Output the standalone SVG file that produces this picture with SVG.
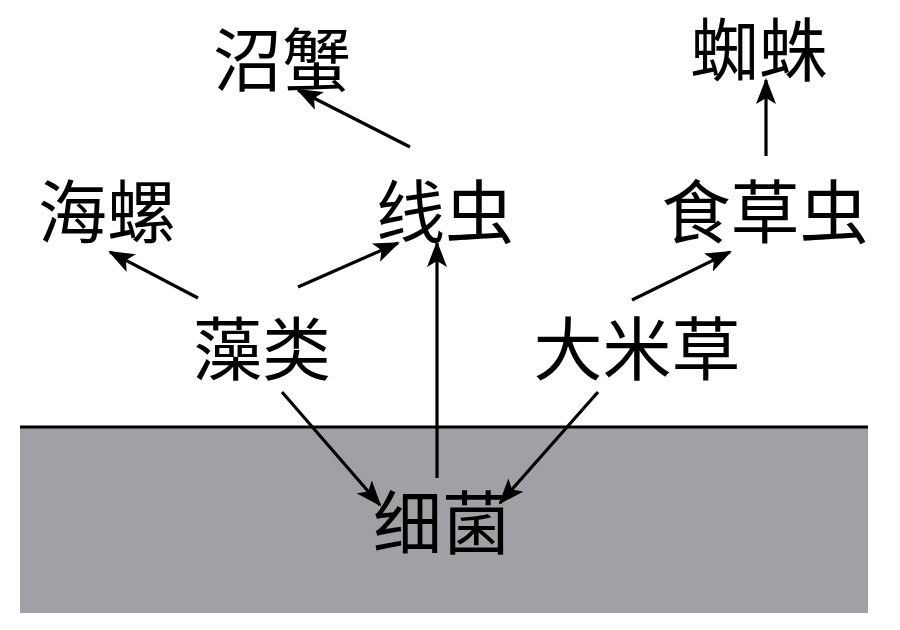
<svg xmlns="http://www.w3.org/2000/svg" width="900" height="630" viewBox="0 0 900 630">
<defs>
<style>
.t{font-family:"Liberation Serif","Noto Sans CJK SC",serif;font-size:69px;fill:#000;text-anchor:middle}
.c{stroke:#000;stroke-width:3.2;fill:none;marker-end:url(#ah)}
</style>
<marker id="ah" viewBox="0 0 26 20" refX="24" refY="10" markerWidth="26" markerHeight="20" markerUnits="userSpaceOnUse" orient="auto">
<path d="M0,0 L26,10 L0,20 L6,10 Z" fill="#000"/>
</marker>
</defs>
<rect width="900" height="630" fill="#fff"/>
<rect x="20" y="427" width="848" height="186" fill="#a1a0a5"/>
<line x1="20" y1="427" x2="868" y2="427" stroke="#000" stroke-width="3"/>
<g id="connectors">
<line class="c" x1="410" y1="147" x2="298" y2="90"/>
<line class="c" x1="766" y1="156" x2="766" y2="80"/>
<line class="c" x1="198" y1="298" x2="110" y2="252"/>
<line class="c" x1="298" y1="287" x2="398" y2="243"/>
<line class="c" x1="437" y1="478" x2="437" y2="243"/>
<line class="c" x1="632" y1="300" x2="730" y2="252"/>
<line class="c" x1="282" y1="392" x2="380" y2="505"/>
<line class="c" x1="598" y1="392" x2="500" y2="503"/>
</g>
<g id="n-zhaoxie"><text class="t" x="282" y="86">沼蟹</text></g>
<g id="n-zhizhu"><text class="t" x="759" y="76">蜘蛛</text></g>
<g id="n-hailuo"><text class="t" x="107" y="238">海螺</text></g>
<g id="n-xianchong"><text class="t" x="445" y="238">线虫</text></g>
<g id="n-shicaochong"><text class="t" x="765" y="238">食草虫</text></g>
<g id="n-zaolei"><text class="t" x="262" y="375">藻类</text></g>
<g id="n-damicao"><text class="t" x="637" y="375">大米草</text></g>
<g id="n-xijun"><text class="t" x="442" y="549">细菌</text></g>
</svg>
